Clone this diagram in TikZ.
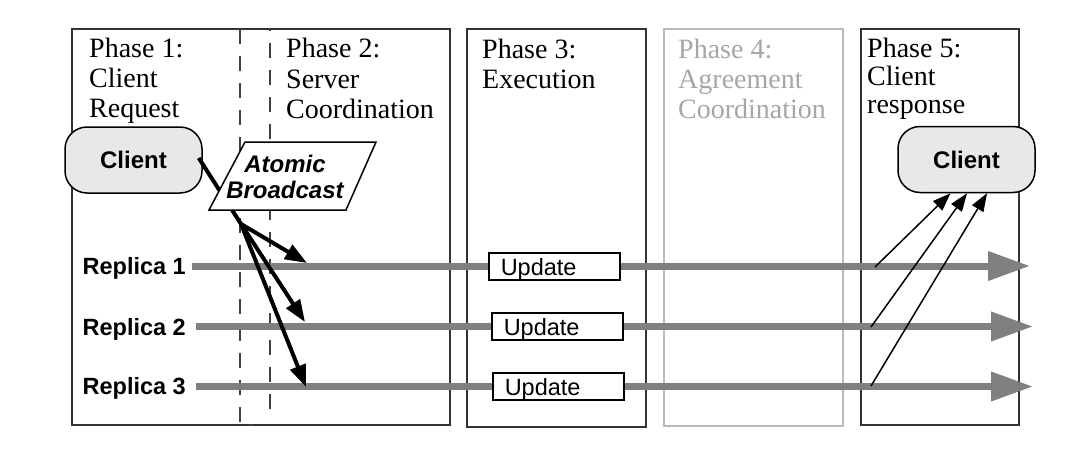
\documentclass[tikz,border=0pt]{standalone}
\usepackage{fontspec}
\setmainfont{Liberation Serif}
\setsansfont{Liberation Sans}
\usetikzlibrary{arrows.meta}
\begin{document}
\begin{tikzpicture}[x=1pt,y=-1pt,
  phasebox/.style={draw=black!80, line width=1.2pt},
  phasetxt/.style={font=\fontsize{28}{30}\selectfont, anchor=base west, inner sep=0pt},
  dashln/.style={draw=black!75, line width=1.6pt, dash pattern=on 15pt off 12pt},
  repline/.style={draw=black!50, line width=7pt, -{Triangle[length=42pt,width=28pt]}},
  replbl/.style={font=\sffamily\bfseries\fontsize{23.5}{26}\selectfont, anchor=base east, inner sep=0pt},
  updbox/.style={draw, fill=white, line width=1.5pt, anchor=north west, font=\sffamily\fontsize{23.5}{26}\selectfont, text width=107pt, inner xsep=12pt, inner ysep=1.5pt, text height=21pt, text depth=3pt, align=left},
  clientbox/.style={draw, line width=1.5pt, fill=black!9, rounded corners=22pt, minimum width=137pt, minimum height=66pt, font=\sffamily\bfseries\fontsize{24}{26}\selectfont},
  bcast/.style={-{Triangle[length=22pt,width=16pt]}, line width=4pt},
  resp/.style={-{Triangle[length=18pt,width=13pt]}, line width=1.5pt}
]
\useasboundingbox (0,0) rectangle (1086,458);
% phase boxes
\draw[phasebox] (72,29) rectangle (450,425);
\draw[phasebox] (467,29) rectangle (646,427);
\draw[phasebox, draw=black!27] (664,29) rectangle (843,426);
\draw[phasebox] (861,29) rectangle (1019,425);
% dashed separators
\draw[dashln] (240,29) -- (240,425) -- (253,425);
\draw[dashln, dash phase=13pt] (270,29) -- (270,420);
% phase texts
\node[phasetxt] (p1a) at (89,57) {Phase 1:};
\node[phasetxt] (p1b) at (89,87) {Client};
\node[phasetxt] (p1c) at (89,117) {Request};
\node[phasetxt] (p2a) at (286,57) {Phase 2:};
\node[phasetxt] (p2b) at (286,88) {Server};
\node[phasetxt] (p2c) at (286,118) {Coordination};
\node[phasetxt] (p3a) at (482,58) {Phase 3:};
\node[phasetxt] (p3b) at (482,88) {Execution};
\node[phasetxt, text=black!35] (p4a) at (678,58) {Phase 4:};
\node[phasetxt, text=black!35] (p4b) at (678,88) {Agreement};
\node[phasetxt, text=black!35] (p4c) at (678,118) {Coordination};
\node[phasetxt] (p5a) at (867,57) {Phase 5:};
\node[phasetxt] (p5b) at (867,85) {Client};
\node[phasetxt] (p5c) at (867,113) {response};
% replica labels
\node[replbl] (r1) at (186,274) {Replica 1};
\node[replbl] (r2) at (186,335) {Replica 2};
\node[replbl] (r3) at (186,394) {Replica 3};
% replica lines
\coordinate (r1s) at (192,266); \coordinate (r1e) at (1030,266);
\coordinate (r2s) at (196,326.5); \coordinate (r2e) at (1033,326.5);
\coordinate (r3s) at (196,386.5); \coordinate (r3e) at (1033,386.5);
\draw[repline] (r1s) -- (r1e);
\draw[repline] (r2s) -- (r2e);
\draw[repline] (r3s) -- (r3e);
% update boxes
\node[updbox] (u1) at (488,252) {Update};
\node[updbox] (u2) at (491,312) {Update};
\node[updbox] (u3) at (492,372) {Update};
% clients
\node[clientbox] (cl1) at (133.5,160) {Client};
\node[clientbox] (cl2) at (966.5,159.5) {Client};
% broadcast
\coordinate (split) at (241,224);
\coordinate (b1) at (307,263);
\coordinate (b2) at (305,322);
\coordinate (b3) at (306,387);
\draw[line width=4pt] ([xshift=-4pt,yshift=2pt]cl1.east) -- (split);
\draw[bcast] (split) -- (b1);
\draw[bcast] (split) -- (b2);
\draw[bcast] (split) -- (b3);
\draw[fill=white, line width=1.5pt] (245,142) -- (376,142) -- (346,210) -- (209,210) -- cycle;
\node[font=\sffamily\bfseries\itshape\fontsize{24}{26}\selectfont, align=center, inner sep=0pt] (ab) at (285,176.5) {Atomic\\Broadcast};
% responses
\coordinate (s1) at (875,267);
\coordinate (s2) at (871,327);
\coordinate (s3) at (871,386);
\draw[resp] (s1) -- ([xshift=-16pt]cl2.south);
\draw[resp] (s2) -- ([xshift=0.5pt]cl2.south);
\draw[resp] (s3) -- ([xshift=20.5pt]cl2.south);
\end{tikzpicture}
\end{document}
